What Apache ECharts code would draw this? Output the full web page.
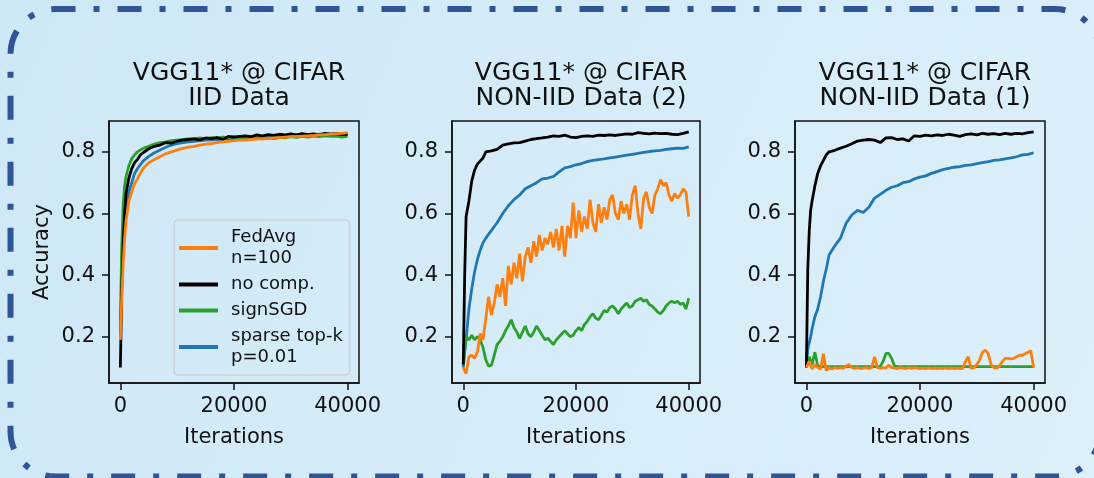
<!DOCTYPE html>
<html>
<head>
<meta charset="utf-8">
<script src="https://cdn.jsdelivr.net/npm/echarts@6/dist/echarts.min.js"></script>
<style>
html,body{margin:0;padding:0;background:#d6edf8;}
#chart{width:1094px;height:478px;}
</style>
</head>
<body>
<div id="chart"></div>
<script>
// ---------- data ----------
const panelTitles = ['VGG11* @ CIFAR\nIID Data', 'VGG11* @ CIFAR\nNON-IID Data (2)', 'VGG11* @ CIFAR\nNON-IID Data (1)'];
const xTicks = [0, 20000, 40000];
const yTicks = [0.2, 0.4, 0.6, 0.8];
const seriesNames = ['FedAvg\nn=100', 'no comp.', 'signSGD', 'sparse top-k\np=0.01'];

// coarse iteration grid
const itersC = [0,250,500,750,1000,1500,2000,2500,3000,3500,4000,
  5000,6000,7000,8000,9000,10000,11000,12000,13000,14000,
  15000,16000,17000,18000,19000,20000,21000,22000,23000,24000,
  25000,26000,27000,28000,29000,30000,31000,32000,33000,34000,
  35000,36000,37000,38000,39000,40000];
// fine iteration grid
const itersF = [0,500,1000,1500,2000,2500,3000,3500,4000,4500,
  5000,5500,6000,6500,7000,7500,8000,8500,9000,9500,
  10000,10500,11000,11500,12000,12500,13000,13500,14000,14500,
  15000,15500,16000,16500,17000,17500,18000,18500,19000,19500,
  20000,20500,21000,21500,22000,22500,23000,23500,24000,24500,
  25000,25500,26000,26500,27000,27500,28000,28500,29000,29500,
  30000,30500,31000,31500,32000,32500,33000,33500,34000,34500,
  35000,35500,36000,36500,37000,37500,38000,38500,39000,39500,
  40000];

// Panel 1: IID
const p1NoComp = [0.10,0.36,0.50,0.60,0.665,0.715,0.745,0.765,0.775,0.79,0.797,
  0.81,0.818,0.822,0.83,0.828,0.835,0.838,0.84,0.842,0.838,
  0.845,0.843,0.846,0.84,0.85,0.848,0.85,0.852,0.849,0.855,
  0.852,0.856,0.853,0.857,0.855,0.858,0.855,0.859,0.856,0.858,
  0.855,0.86,0.857,0.859,0.856,0.857];
const p1FedAvg = [0.19,0.33,0.44,0.52,0.575,0.64,0.67,0.697,0.712,0.73,0.746,
  0.765,0.775,0.785,0.794,0.80,0.806,0.811,0.815,0.818,0.822,
  0.825,0.827,0.83,0.832,0.834,0.836,0.838,0.838,0.84,0.841,
  0.842,0.843,0.845,0.846,0.848,0.849,0.85,0.851,0.852,0.853,
  0.855,0.856,0.857,0.859,0.86,0.862];
const p1SignSGD = [0.25,0.50,0.63,0.69,0.72,0.755,0.778,0.79,0.80,0.806,0.811,
  0.818,0.825,0.83,0.832,0.836,0.838,0.84,0.842,0.843,0.845,
  0.843,0.846,0.845,0.848,0.846,0.849,0.845,0.848,0.843,0.846,
  0.842,0.845,0.843,0.847,0.845,0.849,0.847,0.85,0.848,0.851,
  0.849,0.852,0.85,0.851,0.848,0.85];
const p1TopK = [0.20,0.40,0.52,0.585,0.62,0.67,0.70,0.73,0.745,0.758,0.77,
  0.785,0.797,0.806,0.815,0.822,0.827,0.83,0.832,0.834,0.836,
  0.838,0.839,0.84,0.842,0.843,0.843,0.845,0.846,0.847,0.848,
  0.848,0.849,0.85,0.851,0.852,0.853,0.854,0.855,0.855,0.856,
  0.857,0.857,0.858,0.859,0.859,0.86];

// Panel 2: NON-IID (2)
const p2NoComp = [0.11,0.40,0.59,0.595,0.64,0.705,0.74,0.76,0.77,0.78,0.80,
  0.803,0.808,0.822,0.826,0.829,0.83,0.835,0.84,0.843,0.845,
  0.848,0.852,0.85,0.854,0.848,0.846,0.85,0.852,0.85,0.854,
  0.853,0.855,0.853,0.856,0.858,0.857,0.862,0.86,0.858,0.861,
  0.859,0.86,0.857,0.856,0.86,0.865];
const p2TopK = [0.10,0.15,0.19,0.24,0.29,0.355,0.41,0.45,0.48,0.505,0.52,
  0.545,0.57,0.60,0.625,0.645,0.66,0.68,0.69,0.70,0.712,
  0.715,0.72,0.735,0.748,0.752,0.758,0.762,0.768,0.772,0.775,
  0.777,0.78,0.783,0.786,0.789,0.792,0.795,0.798,0.801,0.803,
  0.805,0.808,0.81,0.812,0.811,0.816];
const p2FedAvg = [0.10,0.08,0.135,0.14,0.13,0.15,0.21,0.19,0.26,0.33,
  0.27,0.31,0.37,0.33,0.39,0.30,0.43,0.37,0.44,0.39,
  0.47,0.38,0.46,0.49,0.44,0.51,0.46,0.53,0.48,0.52,
  0.50,0.54,0.49,0.55,0.48,0.56,0.46,0.56,0.52,0.635,
  0.52,0.61,0.54,0.59,0.55,0.645,0.57,0.54,0.63,0.57,
  0.62,0.58,0.645,0.66,0.60,0.58,0.64,0.60,0.63,0.58,
  0.66,0.69,0.60,0.55,0.65,0.67,0.62,0.60,0.66,0.68,
  0.71,0.69,0.70,0.66,0.64,0.665,0.65,0.66,0.68,0.67,
  0.59];
const p2SignSGD = [0.11,0.20,0.19,0.205,0.19,0.20,0.19,0.165,0.125,0.105,
  0.108,0.14,0.175,0.185,0.20,0.22,0.235,0.255,0.23,0.215,
  0.195,0.215,0.235,0.21,0.20,0.215,0.235,0.22,0.205,0.19,
  0.195,0.185,0.175,0.19,0.20,0.21,0.22,0.21,0.20,0.205,
  0.22,0.23,0.22,0.24,0.25,0.265,0.275,0.26,0.255,0.27,
  0.285,0.28,0.295,0.30,0.29,0.275,0.29,0.30,0.31,0.295,
  0.30,0.315,0.32,0.325,0.315,0.32,0.305,0.30,0.29,0.28,
  0.275,0.285,0.30,0.31,0.315,0.31,0.315,0.305,0.31,0.29,
  0.325];

// Panel 3: NON-IID (1)
const p3NoComp = [0.10,0.42,0.54,0.61,0.64,0.69,0.73,0.755,0.772,0.79,0.80,
  0.805,0.812,0.818,0.826,0.835,0.838,0.84,0.838,0.83,0.845,
  0.846,0.84,0.842,0.835,0.852,0.85,0.854,0.852,0.855,0.853,
  0.857,0.854,0.85,0.856,0.858,0.855,0.86,0.857,0.859,0.856,
  0.86,0.857,0.86,0.858,0.862,0.865];
const p3TopK = [0.10,0.16,0.18,0.20,0.225,0.265,0.29,0.33,0.38,0.42,0.465,
  0.495,0.52,0.568,0.595,0.61,0.603,0.62,0.65,0.662,0.675,
  0.685,0.69,0.70,0.703,0.712,0.718,0.722,0.73,0.736,0.742,
  0.746,0.75,0.752,0.756,0.758,0.762,0.765,0.768,0.772,0.774,
  0.777,0.78,0.784,0.79,0.792,0.797];
const p3SignSGD = [0.10,0.135,0.11,0.15,0.105,0.103,0.103,0.103,0.103,0.103,
  0.103,0.103,0.103,0.103,0.103,0.103,0.103,0.103,0.103,0.103,
  0.103,0.103,0.103,0.103,0.103,0.103,0.103,0.12,0.146,0.146,
  0.13,0.105,0.103,0.103,0.103,0.103,0.103,0.103,0.103,0.103,
  0.103,0.103,0.103,0.103,0.103,0.103,0.103,0.103,0.103,0.103,
  0.103,0.103,0.103,0.103,0.103,0.103,0.103,0.103,0.103,0.103,
  0.103,0.103,0.103,0.103,0.103,0.103,0.103,0.103,0.103,0.103,
  0.103,0.103,0.103,0.103,0.103,0.103,0.103,0.103,0.103,0.103,
  0.103];
const p3FedAvg = [0.10,0.12,0.095,0.11,0.10,0.095,0.145,0.09,0.10,0.095,
  0.10,0.097,0.10,0.097,0.105,0.11,0.10,0.097,0.10,0.097,
  0.098,0.10,0.097,0.10,0.135,0.10,0.097,0.10,0.098,0.108,
  0.10,0.098,0.097,0.10,0.098,0.097,0.10,0.097,0.10,0.098,
  0.097,0.098,0.097,0.099,0.097,0.098,0.097,0.098,0.097,0.099,
  0.097,0.098,0.097,0.098,0.097,0.097,0.12,0.135,0.097,0.10,
  0.11,0.125,0.15,0.157,0.145,0.11,0.10,0.098,0.105,0.12,
  0.13,0.13,0.128,0.13,0.135,0.14,0.14,0.145,0.15,0.155,
  0.10];

// ---------- chart ----------
const FONT = 'DejaVu Sans';
const COLORS = {fed: '#ff7f0e', none: '#000000', sign: '#2ca02c', topk: '#1f77b4'};
const grids = [
  {left: 109, top: 121, width: 250, height: 262},
  {left: 452, top: 121, width: 248, height: 262},
  {left: 795, top: 121, width: 250, height: 262}
];
const panels = [
  {fed: [itersC, p1FedAvg], none: [itersC, p1NoComp], sign: [itersC, p1SignSGD], topk: [itersC, p1TopK]},
  {fed: [itersF, p2FedAvg], none: [itersC, p2NoComp], sign: [itersF, p2SignSGD], topk: [itersC, p2TopK]},
  {fed: [itersF, p3FedAvg], none: [itersC, p3NoComp], sign: [itersF, p3SignSGD], topk: [itersC, p3TopK]}
];
const zip = (xs, ys) => xs.map((x, i) => [x, ys[i]]);

const series = [];
panels.forEach((p, k) => {
  const order = [['topk', seriesNames[3]], ['sign', seriesNames[2]], ['none', seriesNames[1]], ['fed', seriesNames[0]]];
  order.forEach(([key, name]) => {
    series.push({
      type: 'line', name: name, xAxisIndex: k, yAxisIndex: k,
      data: zip(p[key][0], p[key][1]),
      showSymbol: false, symbol: 'none', animation: false,
      color: COLORS[key],
      lineStyle: {width: 2.8, color: COLORS[key]},
      emphasis: {disabled: true}
    });
  });
});

const xAxes = grids.map((g, k) => ({
  type: 'value', gridIndex: k, min: -2000, max: 42000,
  name: 'Iterations', nameLocation: 'middle', nameGap: 44,
  nameTextStyle: {fontFamily: FONT, fontSize: 21, color: '#111'},
  axisLine: {show: true, onZero: false, lineStyle: {color: '#111', width: 1.5}},
  axisTick: {show: true, inside: false, length: 7, customValues: xTicks, lineStyle: {color: '#111', width: 1.5}},
  axisLabel: {show: true, customValues: xTicks, margin: 13, fontFamily: FONT, fontSize: 21, color: '#111',
    formatter: v => String(Math.round(v))},
  splitLine: {show: false}
}));
const yAxes = grids.map((g, k) => ({
  type: 'value', gridIndex: k, min: 0.05, max: 0.9,
  name: k === 0 ? 'Accuracy' : '', nameLocation: 'middle', nameGap: 56, nameRotate: 90,
  nameTextStyle: {fontFamily: FONT, fontSize: 21, color: '#111'},
  axisLine: {show: true, onZero: false, lineStyle: {color: '#111', width: 1.5}},
  axisTick: {show: true, inside: false, length: 7, customValues: yTicks, lineStyle: {color: '#111', width: 1.5}},
  axisLabel: {show: true, customValues: yTicks, margin: 14, fontFamily: FONT, fontSize: 21, color: '#111',
    formatter: v => Number(v).toFixed(1)},
  splitLine: {show: false}
}));
const titles = grids.map((g, k) => ({
  text: panelTitles[k], left: g.left + g.width / 2, top: 56, textAlign: 'center',
  textStyle: {fontFamily: FONT, fontSize: 25, fontWeight: 'normal', color: '#111', lineHeight: 25}
}));

const option = {
  animation: false,
  backgroundColor: {type: 'linear', x: 0, y: 0, x2: 1, y2: 1,
    colorStops: [{offset: 0, color: '#cfe8f6'}, {offset: 1, color: '#dcf0fa'}]},
  title: titles,
  grid: grids.map(g => Object.assign({show: true, borderColor: '#111', borderWidth: 1.5, backgroundColor: 'transparent'}, g)),
  xAxis: xAxes,
  yAxis: yAxes,
  legend: {
    show: true, orient: 'vertical', left: 174, top: 220,
    data: seriesNames, icon: 'rect', itemWidth: 39, itemHeight: 4, itemGap: 5,
    padding: [7, 7, 7, 5],
    borderColor: '#c8c8c8', borderWidth: 1, borderRadius: 4, backgroundColor: 'transparent',
    textStyle: {fontFamily: FONT, fontSize: 18, color: '#111', lineHeight: 21, padding: [0, 0, 0, 8]},
    selectedMode: false
  },
  graphic: [{
    type: 'rect', silent: true, z: 100,
    shape: {x: 10.5, y: 9, width: 1089.5, height: 467.5, r: 45},
    style: {fill: null, stroke: '#2f5597', lineWidth: 6, lineDash: [24, 18, 6, 18], lineDashOffset: 4}
  }],
  series: series
};
const chart = echarts.init(document.getElementById('chart'), null, {renderer: 'canvas'});
chart.setOption(option);
</script>
</body>
</html>
